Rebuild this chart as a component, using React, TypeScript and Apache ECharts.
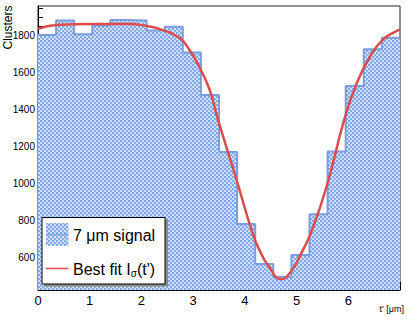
import React, { useEffect, useRef } from "react";
import * as echarts from "echarts";

// Histogram: 20 bins of width 0.35 over [0, 7]
const binEdges = [0, 0.35, 0.7, 1.05, 1.4, 1.75, 2.1, 2.45, 2.8, 3.15, 3.5, 3.85, 4.2, 4.55, 4.9, 5.25, 5.6, 5.95, 6.3, 6.65, 7.0];
const binCounts = [1805, 1883, 1809, 1856, 1886, 1884, 1830, 1850, 1710, 1481, 1173, 784, 568, 499, 616, 836, 1175, 1530, 1728, 1791];

// Best-fit curve samples
const fitX = [0, 0.35, 1.04, 1.77, 2.1, 2.41, 2.74, 2.93, 3.12, 3.32, 3.47, 3.84, 4.13, 4.28, 4.47, 4.7, 4.89, 5.09, 5.3, 5.6, 5.92, 6.15, 6.4, 6.66, 6.95, 7.0];
const fitY = [1838, 1859, 1865, 1865, 1854, 1832, 1789, 1724, 1632, 1508, 1357, 1022, 751, 643, 551, 485, 526, 625, 751, 1005, 1346, 1535, 1679, 1778, 1829, 1833];

const xTicks = [0, 1, 2, 3, 4, 5, 6];
const yTicks = [600, 800, 1000, 1200, 1400, 1600, 1800];

const W = 407;
const H = 319;
const PL = 38, PR = 400, PT = 6, PB = 290;

function makePattern(): string {
  const c = document.createElement("canvas");
  c.width = 4;
  c.height = 4;
  const ctx = c.getContext("2d")!;
  ctx.fillStyle = "#c0d7f5";
  ctx.fillRect(0, 0, 4, 4);
  ctx.fillStyle = "#84abe7";
  ctx.fillRect(0, 0, 2, 2);
  ctx.fillRect(2, 2, 2, 2);
  ctx.fillStyle = "#ffffff";
  ctx.fillRect(3, 1, 1, 1);
  ctx.fillRect(1, 3, 1, 1);
  return c.toDataURL();
}

export default function App() {
  const ref = useRef<HTMLDivElement>(null);
  useEffect(() => {
    document.body.style.margin = "0";
    const chart = echarts.init(ref.current!, null, { renderer: "svg" });
    const pat = makePattern();
    const patFill: any = { image: pat, repeat: "repeat" };

    const histData: number[][] = binCounts.map((v, i) => [binEdges[i], v]);
    histData.push([binEdges[binEdges.length - 1], binCounts[binCounts.length - 1]]);
    const fitData = fitX.map((x, i) => [x, fitY[i]]);

    const font = "'Liberation Sans', Arial, sans-serif";

    chart.setOption({
      animation: false,
      grid: {
        left: PL,
        right: W - PR,
        top: PT,
        bottom: H - PB,
        show: true,
        borderColor: "#222",
        borderWidth: 1,
        backgroundColor: "transparent",
      },
      xAxis: {
        type: "value",
        min: 0,
        max: 7,
        interval: 1,
        axisLine: { show: true, lineStyle: { color: "#000", width: 1 } },
        axisTick: { show: true, inside: true, length: 8, lineStyle: { color: "#000" } },
        minorTick: { show: true, splitNumber: 5, length: 4, lineStyle: { color: "#000" } },
        splitLine: { show: false },
        axisLabel: {
          color: "#000",
          fontSize: 13,
          fontFamily: font,
          margin: 4,
          formatter: (v: number) => (xTicks.indexOf(v) >= 0 ? String(v) : ""),
        },
      },
      yAxis: {
        type: "value",
        min: 427,
        max: 1962,
        splitNumber: 8,
        axisLine: { show: true, lineStyle: { color: "#000", width: 1 } },
        axisTick: { show: true, inside: true, length: 10, customValues: yTicks, lineStyle: { color: "#000" } },
        minorTick: { show: true, splitNumber: 4, length: 5, lineStyle: { color: "#000" } },
        splitLine: { show: false },
        axisLabel: {
          color: "#000",
          fontSize: 10,
          fontFamily: font,
          margin: 3,
          showMinLabel: false,
          showMaxLabel: false,
          formatter: (v: number) => (yTicks.indexOf(v) >= 0 ? String(v) : ""),
        },
      },
      series: [
        {
          type: "line",
          data: histData,
          step: "end",
          symbol: "none",
          lineStyle: { color: "#7a9ee0", width: 2 },
          areaStyle: { color: patFill, origin: "start", opacity: 1 },
          z: 2,
        },
        {
          type: "line",
          data: fitData,
          smooth: 0.5,
          symbol: "none",
          lineStyle: { color: "#dc4c4c", width: 2.5 },
          z: 3,
        },
      ],
      graphic: [
        {
          type: "text",
          x: 7.5,
          y: 27.5,
          rotation: Math.PI / 2,
          style: {
            text: "Clusters",
            fontSize: 12,
            fontFamily: font,
            fill: "#000",
            textAlign: "center",
            textVerticalAlign: "middle",
          },
        },
        {
          type: "text",
          x: 404,
          y: 309,
          style: {
            text: "t' [\u03bcm]",
            fontSize: 9,
            fontFamily: font,
            fill: "#000",
            textAlign: "right",
            textVerticalAlign: "middle",
          },
        },
        // legend shadow + box
        {
          type: "rect",
          shape: { x: 44, y: 219.5, width: 124, height: 67 },
          style: { fill: "#8a8a8a" },
          z: 10,
        },
        {
          type: "rect",
          shape: { x: 42, y: 217.5, width: 123, height: 66.5 },
          style: { fill: "#ffffff", stroke: "#000", lineWidth: 1 },
          z: 11,
        },
        {
          type: "rect",
          shape: { x: 46, y: 223, width: 22.5, height: 23 },
          style: { fill: patFill },
          z: 12,
        },
        {
          type: "line",
          shape: { x1: 46, y1: 234.5, x2: 68.5, y2: 234.5 },
          style: { stroke: "#7a9ee0", lineWidth: 1.5 },
          z: 13,
        },
        {
          type: "line",
          shape: { x1: 46, y1: 268.5, x2: 68.5, y2: 268.5 },
          style: { stroke: "#dc4c4c", lineWidth: 1.5 },
          z: 13,
        },
        {
          type: "text",
          x: 73,
          y: 235,
          style: {
            text: "7 \u03bcm signal",
            fontSize: 16,
            fontFamily: font,
            fill: "#000",
            textAlign: "left",
            textVerticalAlign: "middle",
          },
          z: 13,
        },
        {
          type: "text",
          x: 73,
          y: 269,
          style: {
            text: "{a|Best fit I}{s|\u03c3}{a|(t')}",
            fontFamily: font,
            fill: "#000",
            textAlign: "left",
            textVerticalAlign: "middle",
            rich: {
              a: { fontSize: 16, fontFamily: font, fill: "#000" },
              s: { fontSize: 10, fontFamily: font, fill: "#000", padding: [8, 0, 0, 0] },
            },
          },
          z: 13,
        },
      ],
    });
    return () => chart.dispose();
  }, []);
  return <div ref={ref} style={{ width: W, height: H }} />;
}
